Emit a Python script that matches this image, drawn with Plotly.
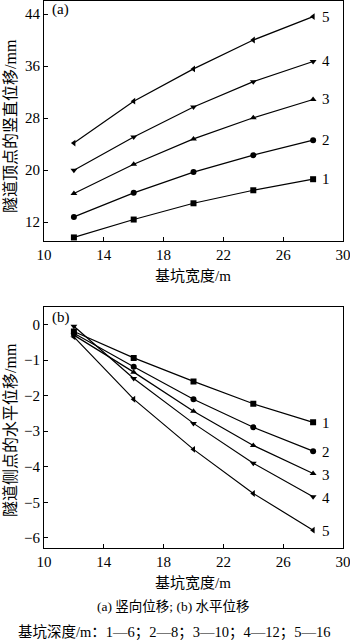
import plotly.graph_objects as go

width_m = [12, 16, 20, 24, 28]
series_names = ["1", "2", "3", "4", "5"]
markers = ["square", "circle", "triangle-up", "triangle-down", "triangle-left"]

vert_1 = [9.65, 12.4, 14.9, 16.9, 18.6]
vert_2 = [12.8, 16.5, 19.7, 22.3, 24.6]
vert_3 = [16.4, 20.9, 24.8, 28.05, 30.86]
vert_4 = [19.97, 25.1, 29.7, 33.6, 36.7]
vert_5 = [24.15, 30.6, 35.56, 40.0, 43.6]

horiz_1 = [-0.20, -0.94, -1.60, -2.23, -2.75]
horiz_2 = [-0.25, -1.19, -2.10, -2.89, -3.56]
horiz_3 = [-0.30, -1.34, -2.44, -3.40, -4.19]
horiz_4 = [-0.05, -1.52, -2.78, -3.90, -4.84]
horiz_5 = [-0.35, -2.10, -3.51, -4.75, -5.78]

vert = [vert_1, vert_2, vert_3, vert_4, vert_5]
horiz = [horiz_1, horiz_2, horiz_3, horiz_4, horiz_5]

top_yticks = [12, 20, 28, 36, 44]
bot_yticks = [0, -1, -2, -3, -4, -5, -6]
xticks = [10, 14, 18, 22, 26, 30]

serif = "Liberation Serif, Times New Roman, Noto Sans CJK SC, serif"
cjk = "Liberation Serif, Noto Sans CJK SC, serif"

fig = go.Figure()
for i in range(5):
    fig.add_trace(go.Scatter(x=width_m, y=vert[i], mode="lines+markers",
                             line=dict(color="black", width=1.2),
                             marker=dict(symbol=markers[i], size=6, color="black"),
                             xaxis="x", yaxis="y", showlegend=False))
    fig.add_trace(go.Scatter(x=width_m, y=horiz[i], mode="lines+markers",
                             line=dict(color="black", width=1.2),
                             marker=dict(symbol=markers[i], size=6, color="black"),
                             xaxis="x2", yaxis="y2", showlegend=False))

H = 641.0
def dom(top_px, bot_px):
    return [(642 - bot_px) / H, (642 - top_px) / H]

axis_common = dict(showline=True, linecolor="black", linewidth=1, mirror=True,
                   ticks="inside", ticklen=4, tickcolor="black", showgrid=False,
                   zeroline=False, ticklabeloverflow="allow",
                   tickfont=dict(family=serif, size=15, color="black"))

fig.update_layout(
    width=350, height=642,
    margin=dict(l=44, r=7, t=1, b=0),
    paper_bgcolor="white", plot_bgcolor="white",
    xaxis=dict(domain=[0, 1], range=[10, 30], tickvals=xticks, anchor="y", **axis_common),
    yaxis=dict(domain=dom(1, 241), range=[9.1, 46.0], tickvals=top_yticks, anchor="x", **axis_common),
    xaxis2=dict(domain=[0, 1], range=[10, 30], tickvals=xticks, anchor="y2", **axis_common),
    yaxis2=dict(domain=dom(307, 548.3), range=[-6.29, 0.49], tickvals=bot_yticks, anchor="x2", **axis_common),
)

ann = []
# series number labels
for i in range(5):
    ann.append(dict(x=28, y=vert[i][-1], xref="x", yref="y", text=series_names[i],
                    showarrow=False, xshift=13, font=dict(family=serif, size=15, color="black")))
    ann.append(dict(x=28, y=horiz[i][-1], xref="x2", yref="y2", text=series_names[i],
                    showarrow=False, xshift=13, yshift=-1, font=dict(family=serif, size=15, color="black")))

# panel labels
ann.append(dict(x=0.02, y=1, xref="paper", yref="paper", text="(a)", showarrow=False,
                xanchor="left", yanchor="top", yshift=2, font=dict(family=serif, size=15, color="black")))
ann.append(dict(x=0.02, y=(642 - 307) / H, xref="paper", yref="paper", text="(b)", showarrow=False,
                xanchor="left", yanchor="top", yshift=0, font=dict(family=serif, size=15, color="black")))

def px_ann(xp, yp, text, size, angle=0):
    xpaper = (xp - 44) / (350 - 44 - 7)
    ypaper = (642 - yp) / H
    return dict(x=xpaper, y=ypaper, xref="paper", yref="paper", text=text, showarrow=False,
                textangle=angle, xanchor="center", yanchor="middle",
                font=dict(family=cjk, size=size, color="black"))

ann.append(px_ann(10, 126, "隧道顶点的竖直位移/mm", 16, -90))
ann.append(px_ann(10, 430, "隧道侧点的水平位移/mm", 16, -90))
ann.append(px_ann(193, 276, "基坑宽度/m", 15))
ann.append(px_ann(193, 583, "基坑宽度/m", 15))
ann.append(px_ann(173, 606, "(a) 竖向位移; (b) 水平位移", 13.5))
ann.append(px_ann(174, 632, "基坑深度/m：1—6；2—8；3—10；4—12；5—16", 14.5))

fig.update_layout(annotations=ann)
fig.write_html("out.html")
